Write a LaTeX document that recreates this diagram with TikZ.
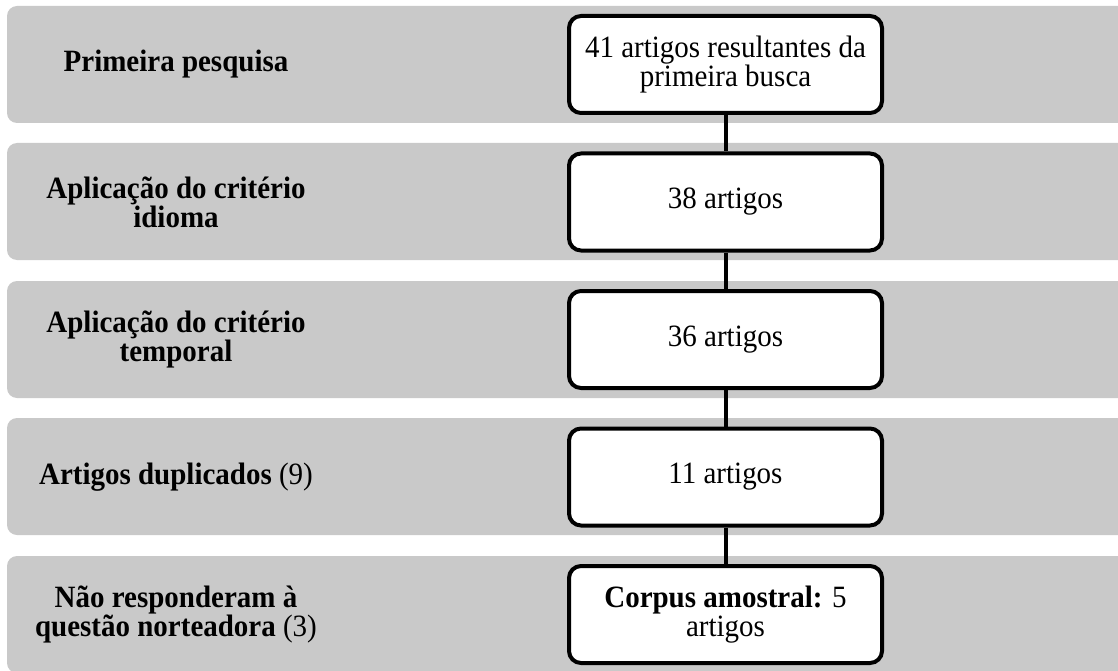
\documentclass[tikz,border=0pt]{standalone}
\usepackage{fontspec}
\setmainfont{Liberation Serif}[FakeStretch=0.935]
\definecolor{bandgray}{RGB}{201,201,201}
\begin{document}
\begin{tikzpicture}[x=1pt,y=-1pt,
  band/.style={fill=bandgray, draw=none, rounded corners=10pt},
  stepbox/.style={draw=black, line width=4pt, fill=white, rounded corners=12pt,
    minimum width=313pt, minimum height=97pt, align=center, inner sep=0pt,
    font=\fontsize{31}{28.5}\selectfont},
  lbl/.style={align=center, inner sep=0pt, font=\fontsize{31}{29}\selectfont\bfseries},
  conn/.style={draw=black, line width=4pt}]
\useasboundingbox (0,0) rectangle (1118,671);
\clip (0,0) rectangle (1118,671);
\foreach \t in {6,143,281,418,556}
  \path[band] (7,\t) rectangle (1160,\t+117);
\node[lbl] (l1) at (176,64.5) {Primeira pesquisa};
\node[lbl] (l2) at (176,202) {Aplicação do critério\\idioma};
\node[lbl] (l3) at (176,339.5) {Aplicação do critério\\temporal};
\node[lbl] (l4) at (176,477) {Artigos duplicados \textmd{(9)}};
\node[lbl] (l5) at (176,614.5) {Não responderam à\\questão norteadora \textmd{(3)}};
\node[stepbox] (b1) at (725.5,64.5) {41 artigos resultantes da\\primeira busca};
\node[stepbox] (b2) at (725.5,202) {38 artigos};
\node[stepbox] (b3) at (725.5,339.5) {36 artigos};
\node[stepbox] (b4) at (725.5,477) {11 artigos};
\node[stepbox] (b5) at (725.5,614.5) {\textbf{Corpus amostral:} 5\\artigos};
\draw[conn] (b1.south) -- (b2.north);
\draw[conn] (b2.south) -- (b3.north);
\draw[conn] (b3.south) -- (b4.north);
\draw[conn] (b4.south) -- (b5.north);
\end{tikzpicture}
\end{document}
